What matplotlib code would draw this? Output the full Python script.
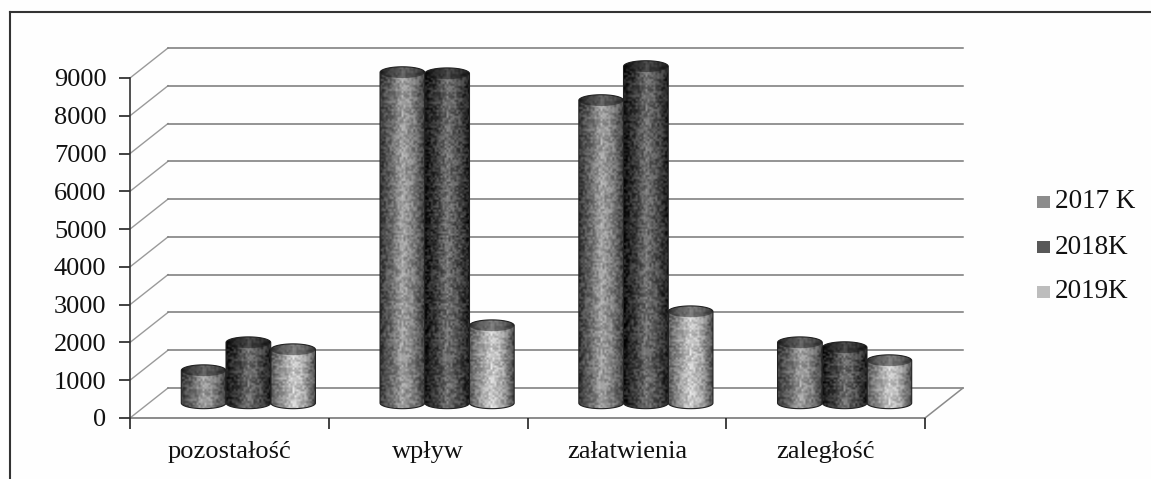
import numpy as np
import matplotlib
matplotlib.use('Agg')
import matplotlib.pyplot as plt
from matplotlib.colors import LinearSegmentedColormap
from matplotlib.patches import Ellipse, Rectangle, Polygon

plt.rcParams['font.family'] = ['Liberation Serif', 'DejaVu Serif']

categories = ['pozostałość', 'wpływ', 'załatwienia', 'zaległość']
series_names = ['2017 K', '2018K', '2019K']
v2017 = [860, 8750, 8010, 1600]
v2018 = [1600, 8720, 8910, 1470]
v2019 = [1415, 2050, 2420, 1125]
y_ticks = [0, 1000, 2000, 3000, 4000, 5000, 6000, 7000, 8000, 9000]

W, H = 1151, 479
# pixels of the plot box
x0, x1 = 130, 925
y0, y9 = 418, 78
px_x = (x1 - x0) / 4
px_y = (y0 - y9) / 9000
depth_x = 38 / px_x   # in category units
depth_y = 30 / px_y   # in value units
bar_w = 0.225
ell_h = 300  # full height of the cylinder ellipse in value units
y_room = 10000  # axes go above 9000 so images are not cut at the top

colors = [
    ['#3a3a3a', '#6a6a6a', '#a2a2a2', '#808080', '#404040'],
    ['#161616', '#3e3e3e', '#727272', '#4e4e4e', '#1e1e1e'],
    ['#5a5a5a', '#9a9a9a', '#cdcdcd', '#a8a8a8', '#4e4e4e'],
]
legend_cols = ['#8c8c8c', '#585858', '#bdbdbd']

fig = plt.figure(figsize=(W / 100, H / 100), dpi=100, facecolor='#fefefe')
ax = fig.add_axes([x0 / W, 1 - y0 / H, (x1 - x0) / W, y_room * px_y / H])
ax.set_facecolor('none')

# back wall and side wall gridlines
for v in y_ticks:
    ax.plot([0, depth_x], [v, v + depth_y], color='#9a9a9a', lw=1.0, clip_on=False, zorder=1)
    ax.plot([depth_x, 4 + depth_x], [v + depth_y, v + depth_y],
            color='#777777', lw=1.1, clip_on=False, zorder=1)
ax.plot([4, 4 + depth_x], [0, depth_y], color='#8a8a8a', lw=1.1, clip_on=False, zorder=1)
ax.plot([0, 4], [0, 0], color='#777777', lw=1.2, clip_on=False, zorder=1)


def speckle(n, m):
    # fixed print grain for the scanned look, not data
    jj, ii = np.mgrid[0:n, 0:m]
    s = np.sin(ii * 12.9898 + jj * 78.233) * 43758.5453
    return s - np.floor(s) - 0.5


def cylinder(xc, val, k, z):
    cmap = LinearSegmentedColormap.from_list('c', colors[k])
    base = depth_y / 2
    left, right = xc - bar_w / 2, xc + bar_w / 2
    low, high = base - ell_h / 2, base + val + ell_h / 2
    n = int((high - low) * px_y / 2) + 1
    m = int(bar_w * px_x / 2) + 1
    shade = cmap(np.linspace(0, 1, m))[:, 0]
    img = np.clip(np.tile(shade, (n, 1)) + 0.26 * speckle(n, m), 0, 1)
    im = ax.imshow(img, cmap='gray', vmin=0, vmax=1, extent=[left, right, low, high],
                   aspect='auto', interpolation='bilinear', zorder=z)
    t = np.linspace(np.pi, 2 * np.pi, 40)
    lower = np.c_[xc + bar_w / 2 * np.cos(t), base + ell_h / 2 * np.sin(t)]
    upper = np.c_[xc + bar_w / 2 * np.cos(t - np.pi), base + val + ell_h / 2 * np.sin(t - np.pi)]
    outline = Polygon(np.r_[lower, upper], closed=True, fc='none', ec='#222222', lw=0.8,
                      zorder=z + 0.5, clip_on=False)
    ax.add_patch(outline)
    im.set_clip_path(outline)
    ax.add_patch(Ellipse((xc, base + val), bar_w, ell_h, fc='#111111', alpha=0.45, ec='none',
                         zorder=z + 0.4, clip_on=False))


for i in range(len(categories)):
    for k, vals in enumerate([v2017, v2018, v2019]):
        xc = i + 0.5 + depth_x / 2 + (k - 1) * bar_w
        cylinder(xc, vals[i], k, 3 + k if k != 1 else 6)

ax.set_xlim(0, 4)
ax.set_ylim(0, y_room)

ax.set_xticks(range(5))
ax.set_xticklabels([])
ax.set_yticks(y_ticks)
ax.set_yticklabels([str(v) for v in y_ticks], fontsize=19, color='#111111')
ax.tick_params(axis='y', length=8, width=1.2, pad=9, direction='out', color='#222222')
ax.tick_params(axis='x', length=8, width=1.2, direction='out', color='#222222')
for s in ['top', 'right', 'bottom']:
    ax.spines[s].set_visible(False)
ax.spines['left'].set_bounds(0, 9000)
ax.spines['left'].set_linewidth(1.2)
ax.spines['left'].set_color('#333333')

for i, c in enumerate(categories):
    ax.text(i + 0.5, -1059, c, ha='center', va='baseline', fontsize=19, color='#111111')

# legend by hand
for name, col, py in zip(series_names, legend_cols, [202, 247, 292]):
    fig.add_artist(Rectangle((1037 / W, 1 - (py + 6) / H), 13 / W, 12 / H, transform=fig.transFigure,
                             fc=col, ec='none'))
    fig.text(1055 / W, 1 - py / H, name, va='center', ha='left', fontsize=19.5, color='#111111')

# outer frame, only left and top made it into the scan
fig.add_artist(plt.Line2D([10 / W, 10 / W], [0, 1 - 12 / H], color='#333333', lw=1.5))
fig.add_artist(plt.Line2D([10 / W, 1], [1 - 12 / H, 1 - 12 / H], color='#333333', lw=1.5))

fig.savefig('out.png', dpi=100, facecolor=fig.get_facecolor())
